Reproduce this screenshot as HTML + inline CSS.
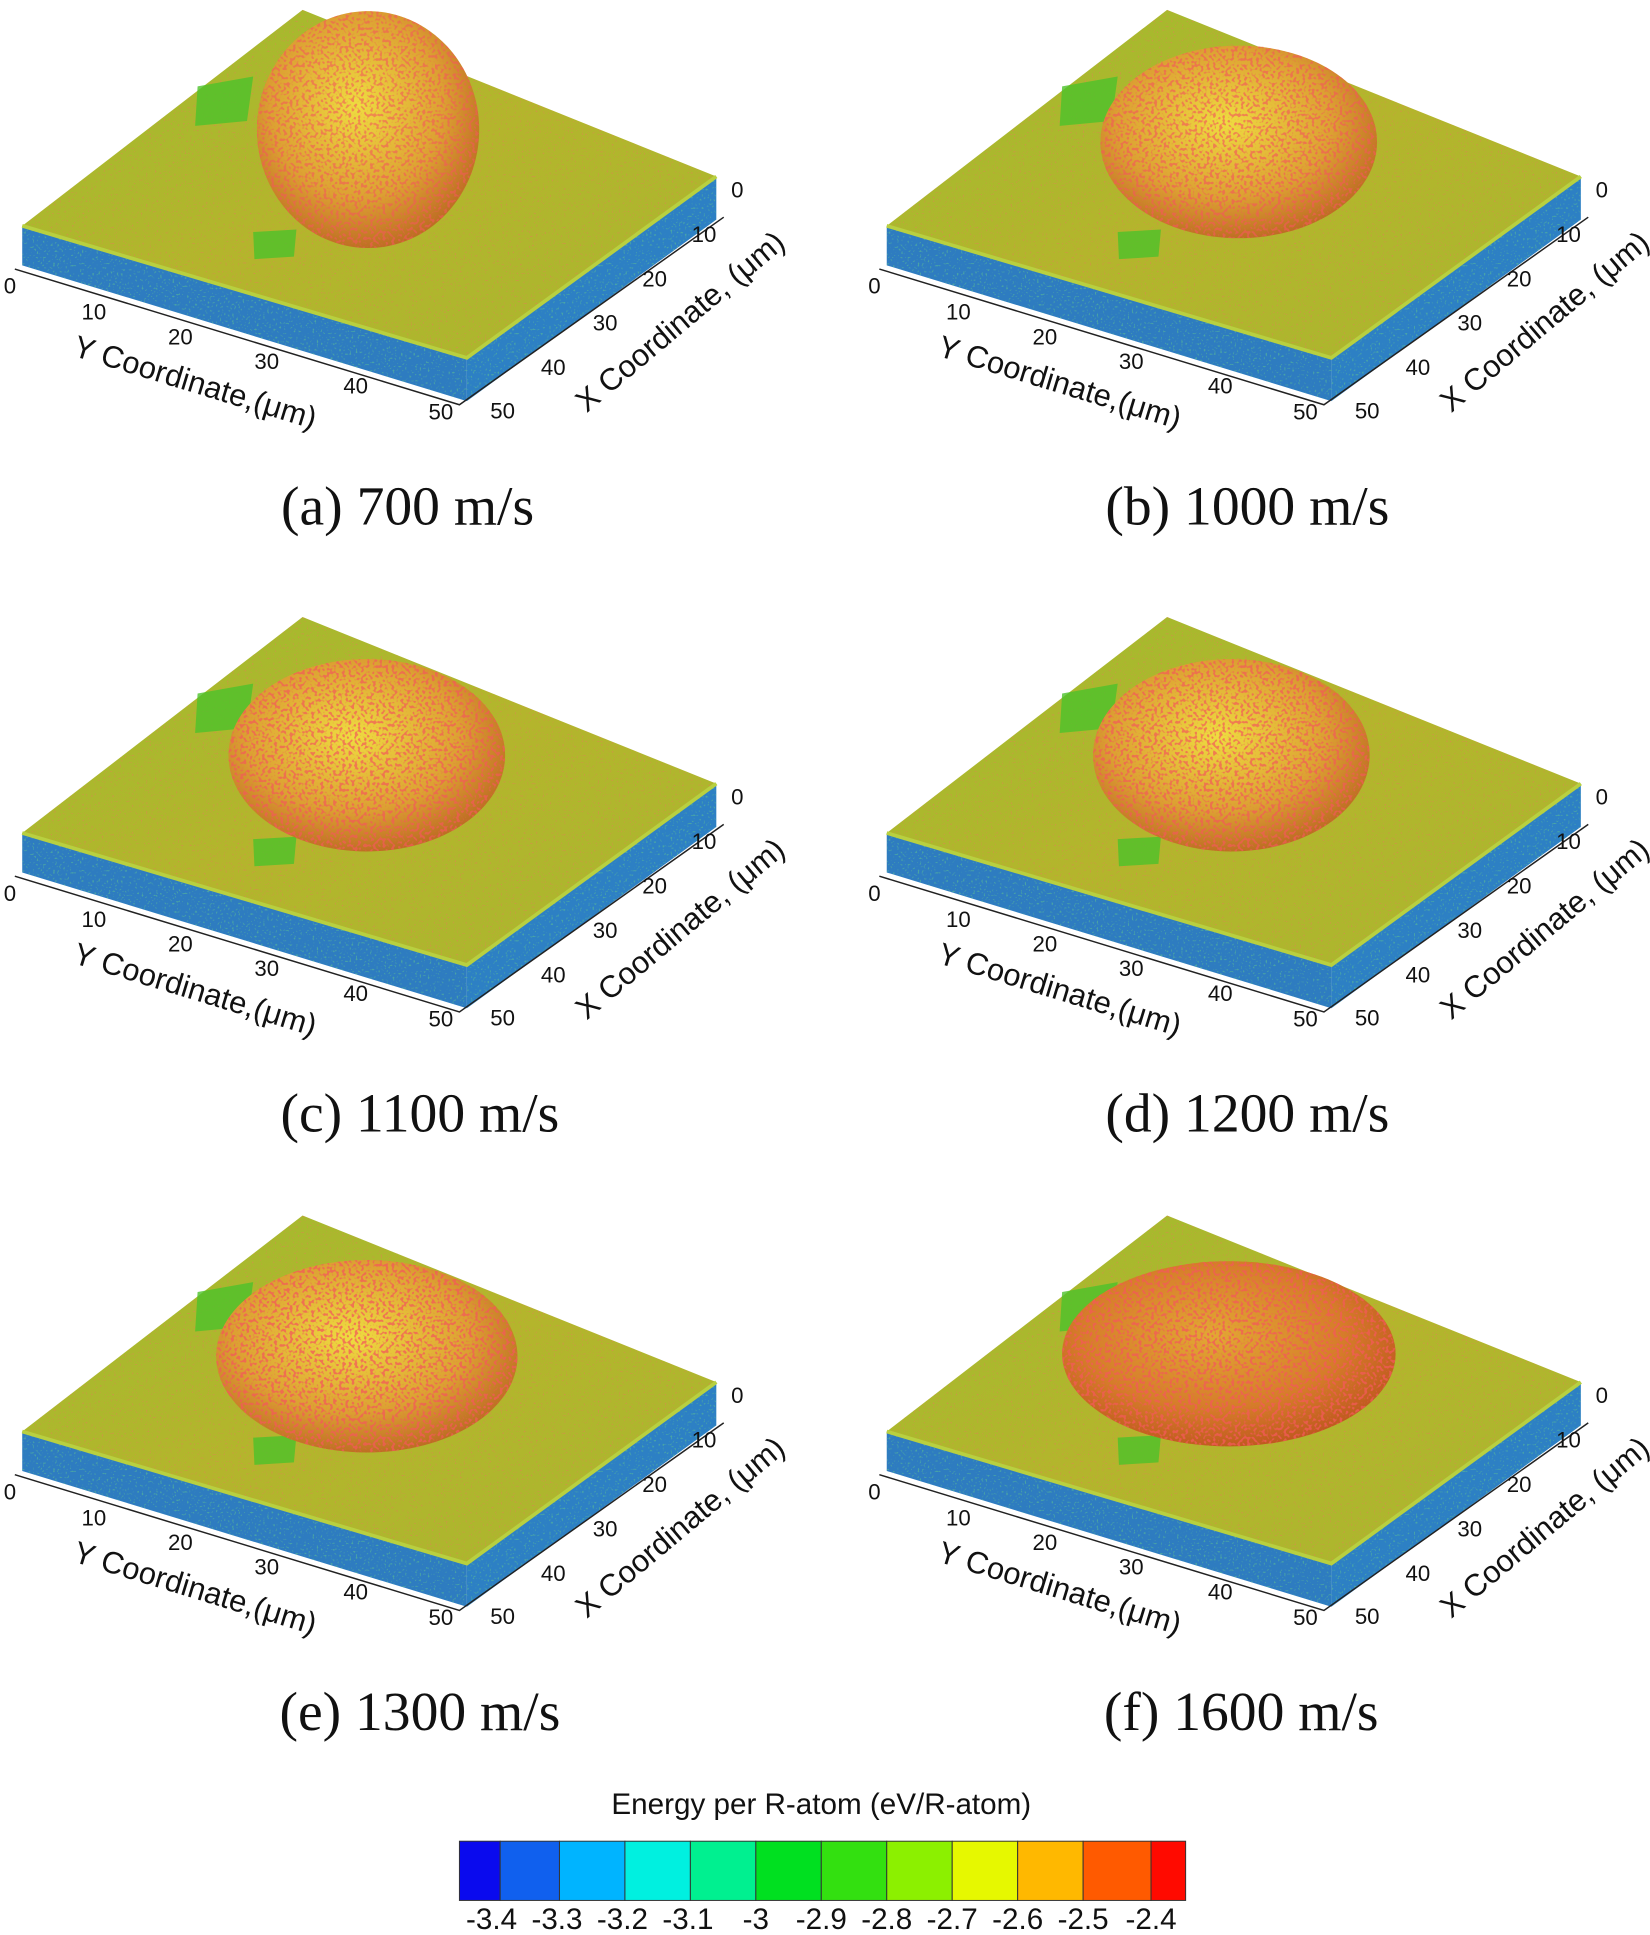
<!DOCTYPE html>
<html><head><meta charset="utf-8"><style>
html,body{margin:0;padding:0;background:#fff;}
svg{display:block;}
.t{font-family:"Liberation Sans",sans-serif;fill:#111;}
.c{font-family:"Liberation Serif",serif;font-size:45px;fill:#111;text-anchor:middle;}
</style></head><body>
<svg width="1650" height="1935" viewBox="0 0 1336 1568" preserveAspectRatio="none" xmlns="http://www.w3.org/2000/svg">
<defs>
<linearGradient id="top" x1="0" y1="0" x2="1" y2="1">
<stop offset="0" stop-color="#9fbc2e"/><stop offset="0.5" stop-color="#b4b52c"/><stop offset="1" stop-color="#a9b72e"/>
</linearGradient>
<radialGradient id="dome" cx="0.45" cy="0.4" r="0.65">
<stop offset="0" stop-color="#eedc40"/><stop offset="0.6" stop-color="#dca032"/><stop offset="1" stop-color="#b86420"/>
</radialGradient>
<filter id="spk" x="0" y="0" width="1" height="1">
<feTurbulence type="fractalNoise" baseFrequency="0.4" numOctaves="1" seed="3"/>
<feColorMatrix values="0 0 0 0 0.9  0 0 0 0 0.1  0 0 0 0 0.1  0 0 0 9 -4.6"/>
<feComposite in2="SourceGraphic" operator="in"/>
</filter>
<filter id="fine" x="0" y="0" width="1" height="1">
<feTurbulence type="fractalNoise" baseFrequency="0.7" numOctaves="1" seed="7"/>
<feColorMatrix values="0 0 0 0 0.8  0 0 0 0 0.2  0 0 0 0 0.1  0 0 0 8 -5"/>
<feComposite in2="SourceGraphic" operator="in"/>
</filter>
<filter id="blu" x="0" y="0" width="1" height="1">
<feTurbulence type="fractalNoise" baseFrequency="0.6" numOctaves="1" seed="11"/>
<feColorMatrix values="0 0 0 0 0.1  0 0 0 0 0.5  0 0 0 0 0.3  0 0 0 8 -4.8"/>
<feComposite in2="SourceGraphic" operator="in"/>
</filter>
<g id="slab">
<polygon points="18,183 245,8 580,143 378,290" fill="url(#top)"/>
<polygon points="18,183 245,8 580,143 378,290" fill="#000" filter="url(#fine)" opacity="0.5"/>
<polygon points="160,70 205,62 200,98 158,102" fill="#4cc22a" opacity="0.8"/>
<polygon points="205,188 240,186 238,208 206,210" fill="#4cc22a" opacity="0.8"/>
<polygon points="18,183 378,290 378,325 18,215" fill="#2e7cc0"/>
<polygon points="378,290 580,143 580,178 378,325" fill="#2d80c4"/>
<polygon points="18,183 378,290 378,325 18,215" fill="#000" filter="url(#blu)" opacity="0.6"/>
<polygon points="378,290 580,143 580,178 378,325" fill="#000" filter="url(#blu)" opacity="0.6"/>
<polyline points="18,183 378,290 580,143" fill="none" stroke="#b8d040" stroke-width="3"/>
<polyline points="12,218 372,328 586,176" fill="none" stroke="#222" stroke-width="1.2"/>
</g>
</defs>

<g transform="translate(0,0)">
<use href="#slab"/>
<ellipse cx="298" cy="105" rx="90" ry="96" fill="url(#dome)"/>
<ellipse cx="298" cy="105" rx="90" ry="96" fill="#000" filter="url(#spk)" opacity="0.6"/>
<g class="t" font-size="18"><text x="3" y="238">0</text><text x="66" y="259">10</text><text x="136" y="279">20</text><text x="206" y="299">30</text><text x="278" y="319">40</text><text x="347" y="340">50</text>
<text x="592" y="160">0</text><text x="560" y="196">10</text><text x="520" y="232">20</text><text x="480" y="268">30</text><text x="438" y="304">40</text><text x="397" y="339">50</text></g>
<text class="t" font-size="25" transform="translate(58,288) rotate(17)">Y Coordinate,(μm)</text>
<text class="t" font-size="25" transform="translate(475,335) rotate(-40)">X Coordinate, (μm)</text>
<text class="c" x="330" y="425">(a) 700 m/s</text>
</g>

<g transform="translate(700,0)">
<use href="#slab"/>
<ellipse cx="303" cy="115" rx="112" ry="78" fill="url(#dome)"/>
<ellipse cx="303" cy="115" rx="112" ry="78" fill="#000" filter="url(#spk)" opacity="0.65"/>
<g class="t" font-size="18"><text x="3" y="238">0</text><text x="66" y="259">10</text><text x="136" y="279">20</text><text x="206" y="299">30</text><text x="278" y="319">40</text><text x="347" y="340">50</text>
<text x="592" y="160">0</text><text x="560" y="196">10</text><text x="520" y="232">20</text><text x="480" y="268">30</text><text x="438" y="304">40</text><text x="397" y="339">50</text></g>
<text class="t" font-size="25" transform="translate(58,288) rotate(17)">Y Coordinate,(μm)</text>
<text class="t" font-size="25" transform="translate(475,335) rotate(-40)">X Coordinate, (μm)</text>
<text class="c" x="310" y="425">(b) 1000 m/s</text>
</g>

<g transform="translate(0,492)">
<use href="#slab"/>
<ellipse cx="297" cy="120" rx="112" ry="78" fill="url(#dome)"/>
<ellipse cx="297" cy="120" rx="112" ry="78" fill="#000" filter="url(#spk)" opacity="0.7"/>
<g class="t" font-size="18"><text x="3" y="238">0</text><text x="66" y="259">10</text><text x="136" y="279">20</text><text x="206" y="299">30</text><text x="278" y="319">40</text><text x="347" y="340">50</text>
<text x="592" y="160">0</text><text x="560" y="196">10</text><text x="520" y="232">20</text><text x="480" y="268">30</text><text x="438" y="304">40</text><text x="397" y="339">50</text></g>
<text class="t" font-size="25" transform="translate(58,288) rotate(17)">Y Coordinate,(μm)</text>
<text class="t" font-size="25" transform="translate(475,335) rotate(-40)">X Coordinate, (μm)</text>
<text class="c" x="340" y="425">(c) 1100 m/s</text>
</g>

<g transform="translate(700,492)">
<use href="#slab"/>
<ellipse cx="297" cy="120" rx="112" ry="78" fill="url(#dome)"/>
<ellipse cx="297" cy="120" rx="112" ry="78" fill="#000" filter="url(#spk)" opacity="0.7"/>
<g class="t" font-size="18"><text x="3" y="238">0</text><text x="66" y="259">10</text><text x="136" y="279">20</text><text x="206" y="299">30</text><text x="278" y="319">40</text><text x="347" y="340">50</text>
<text x="592" y="160">0</text><text x="560" y="196">10</text><text x="520" y="232">20</text><text x="480" y="268">30</text><text x="438" y="304">40</text><text x="397" y="339">50</text></g>
<text class="t" font-size="25" transform="translate(58,288) rotate(17)">Y Coordinate,(μm)</text>
<text class="t" font-size="25" transform="translate(475,335) rotate(-40)">X Coordinate, (μm)</text>
<text class="c" x="310" y="425">(d) 1200 m/s</text>
</g>

<g transform="translate(0,977)">
<use href="#slab"/>
<ellipse cx="297" cy="122" rx="122" ry="78" fill="url(#dome)"/>
<ellipse cx="297" cy="122" rx="122" ry="78" fill="#000" filter="url(#spk)" opacity="0.75"/>
<g class="t" font-size="18"><text x="3" y="238">0</text><text x="66" y="259">10</text><text x="136" y="279">20</text><text x="206" y="299">30</text><text x="278" y="319">40</text><text x="347" y="340">50</text>
<text x="592" y="160">0</text><text x="560" y="196">10</text><text x="520" y="232">20</text><text x="480" y="268">30</text><text x="438" y="304">40</text><text x="397" y="339">50</text></g>
<text class="t" font-size="25" transform="translate(58,288) rotate(17)">Y Coordinate,(μm)</text>
<text class="t" font-size="25" transform="translate(475,335) rotate(-40)">X Coordinate, (μm)</text>
<text class="c" x="340" y="425">(e) 1300 m/s</text>
</g>

<g transform="translate(700,977)">
<use href="#slab"/>
<ellipse cx="295" cy="120" rx="135" ry="75" fill="url(#dome)"/>
<ellipse cx="295" cy="120" rx="135" ry="75" fill="#c83018" opacity="0.3"/>
<ellipse cx="295" cy="120" rx="135" ry="75" fill="#000" filter="url(#spk)" opacity="0.75"/>
<g class="t" font-size="18"><text x="3" y="238">0</text><text x="66" y="259">10</text><text x="136" y="279">20</text><text x="206" y="299">30</text><text x="278" y="319">40</text><text x="347" y="340">50</text>
<text x="592" y="160">0</text><text x="560" y="196">10</text><text x="520" y="232">20</text><text x="480" y="268">30</text><text x="438" y="304">40</text><text x="397" y="339">50</text></g>
<text class="t" font-size="25" transform="translate(58,288) rotate(17)">Y Coordinate,(μm)</text>
<text class="t" font-size="25" transform="translate(475,335) rotate(-40)">X Coordinate, (μm)</text>
<text class="c" x="305" y="425">(f) 1600 m/s</text>
</g>

<text class="t" font-size="24" x="665" y="1470" text-anchor="middle">Energy per R-atom (eV/R-atom)</text>
<g stroke="#333" stroke-width="0.8">
<rect x="372" y="1492" width="33" height="48" fill="#0a0aee"/>
<rect x="405" y="1492" width="48" height="48" fill="#1060ee"/>
<rect x="453" y="1492" width="53" height="48" fill="#00b4ff"/>
<rect x="506" y="1492" width="53" height="48" fill="#00f0e0"/>
<rect x="559" y="1492" width="53" height="48" fill="#00f090"/>
<rect x="612" y="1492" width="53" height="48" fill="#00e020"/>
<rect x="665" y="1492" width="53" height="48" fill="#33e010"/>
<rect x="718" y="1492" width="53" height="48" fill="#8cf000"/>
<rect x="771" y="1492" width="53" height="48" fill="#e6f800"/>
<rect x="824" y="1492" width="53" height="48" fill="#ffb800"/>
<rect x="877" y="1492" width="55" height="48" fill="#ff5a00"/>
<rect x="932" y="1492" width="28" height="48" fill="#ff0a00"/>
</g>
<g class="t" font-size="24" text-anchor="middle">
<text x="398" y="1563">-3.4</text><text x="451" y="1563">-3.3</text><text x="504" y="1563">-3.2</text><text x="557" y="1563">-3.1</text><text x="612" y="1563">-3</text><text x="665" y="1563">-2.9</text><text x="718" y="1563">-2.8</text><text x="771" y="1563">-2.7</text><text x="824" y="1563">-2.6</text><text x="877" y="1563">-2.5</text><text x="932" y="1563">-2.4</text>
</g>
</svg>
</body></html>
